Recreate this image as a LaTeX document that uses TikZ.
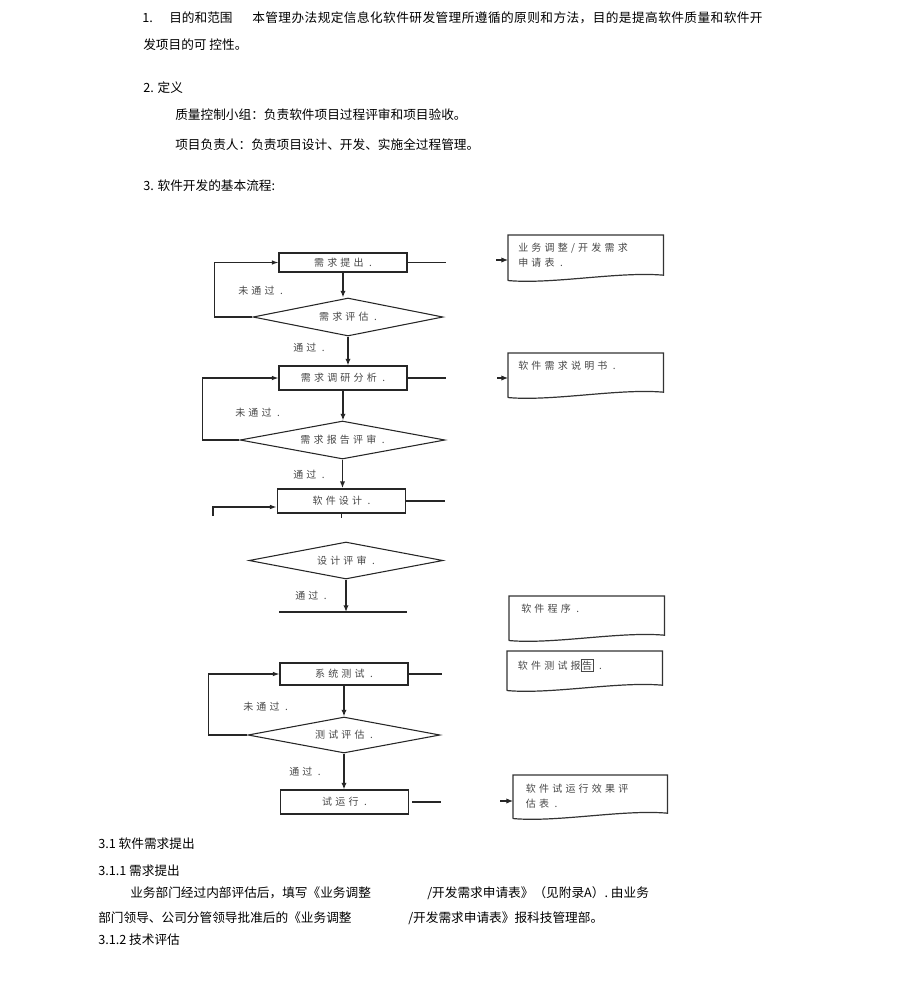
\documentclass[tikz,border=0pt]{standalone}
\usepackage{fontspec}
\setmainfont{Noto Sans CJK SC}
\newfontfamily\flowfont{Noto Sans CJK SC}[LetterSpace=32]
\usepackage{tikz}
\usetikzlibrary{arrows.meta,
                calc,
                positioning,
                shapes.geometric}
\tikzstyle{txt} = [anchor=west,inner sep=0pt,text=black,font=\fontsize{9.5}{11}\selectfont]
\tikzstyle{flowtxt} = [inner sep=0pt,text=black!72,font=\flowfont\fontsize{7.5}{11.25}\selectfont]
\tikzstyle{stepbox} = [draw=black!85,line width=0.8pt,minimum width=96pt,minimum height=17pt,flowtxt]
\tikzstyle{decision} = [diamond,aspect=4,draw=black!85,line width=0.8pt,inner sep=1pt,flowtxt]
\tikzstyle{docbox} = [anchor=north west,inner sep=0pt,minimum width=116.25pt]
\tikzstyle{doctxt} = [flowtxt,anchor=north west,align=left]
\tikzstyle{flow} = [line width=1.2pt,black!85,-{Latex[length=5pt,width=4pt]}]
\tikzstyle{backline} = [line width=0.8pt,black!85,-{Latex[length=5pt,width=3.5pt]}]
\tikzstyle{stub} = [line width=0.8pt,black!85]
\tikzstyle{headline} = [line width=0.8pt,black!85,-{Latex[length=5pt,width=4pt]}]
\newcommand{\docwave}[1]{%
    \draw[line width=0.9pt,black!80] (#1.south west) -- (#1.north west) -- (#1.north east)
      -- ($(#1.south east)+(0,4pt)$)
      .. controls ($(#1.south)+(25pt,7pt)$) and ($(#1.south)+(-25pt,-3pt)$) .. (#1.south west);
}
\setlength{\fboxsep}{0.6pt}
\setlength{\fboxrule}{0.5pt}

\begin{document}
\begin{tikzpicture}[x=0.75pt,y=-0.75pt]
    \useasboundingbox (0,0) rectangle (920,997);

    % text before the chart
    \node[txt] (t1) at (142,18) {1.};
    \node[txt] (t1a) at (169,18) {目的和范围};
    \node[txt] (t1b) at (252,18) {\addfontfeature{LetterSpace=3.4}本管理办法规定信息化软件研发管理所遵循的原则和方法，目的是提高软件质量和软件开};
    \node[txt] (t2) at (143,45) {发项目的可\ 控性。};
    \node[txt] (t3) at (143,88) {2. 定义};
    \node[txt] (t4) at (175,115) {质量控制小组：负责软件项目过程评审和项目验收。};
    \node[txt] (t5) at (175,145) {项目负责人：负责项目设计、开发、实施全过程管理。};
    \node[txt] (t6) at (143,186) {3. 软件开发的基本流程:};

    % chart
    \node[stepbox,minimum height=14.25pt] (b1) at (343,262.5) {需求提出 .};
    \node[decision,minimum width=142.5pt,minimum height=28.5pt] (r1) at (348,317) {需求评估 .};
    \node[stepbox,minimum height=18pt] (b2) at (343,378) {需求调研分析 .};
    \node[decision,minimum width=153.75pt,minimum height=28.5pt] (r2) at (342.5,440) {需求报告评审 .};
    \node[stepbox,minimum height=18pt,line width=1.4pt] (b3) at (341.5,501) {软件设计 .};
    \node[decision,minimum width=145.5pt,minimum height=27.75pt] (r3) at (346,560.5) {设计评审 .};
    \node[stepbox,minimum height=16.5pt] (b4) at (344,674) {系统测试 .};
    \node[decision,minimum width=144pt,minimum height=27pt] (r4) at (344,735) {测试评估 .};
    \node[stepbox,minimum height=18pt] (b5) at (344.5,802) {试运行 .};

    \node[flowtxt,anchor=west] (n1) at (238,291) {未通过 .};
    \node[flowtxt,anchor=west] (p1) at (293,348) {通过 .};
    \node[flowtxt,anchor=west] (n2) at (235,413) {未通过 .};
    \node[flowtxt,anchor=west] (p2) at (293,475) {通过 .};
    \node[flowtxt,anchor=west] (p3) at (295,596) {通过 .};
    \node[flowtxt,anchor=west] (n4) at (243,707) {未通过 .};
    \node[flowtxt,anchor=west] (p4) at (289,772) {通过 .};

    % documents
    \node[docbox,minimum height=33.75pt] (doc1) at (508,235) {};
    \node[docbox,minimum height=33pt] (doc2) at (508,353) {};
    \node[docbox,minimum height=33pt] (doc3) at (509,596) {};
    \node[docbox,minimum height=29.25pt] (doc4) at (507,651) {};
    \node[docbox,minimum height=32.25pt,minimum width=115.5pt] (doc5) at (513,775) {};
    \foreach \d in {doc1,doc2,doc3,doc4,doc5}{\docwave{\d}}
    \node[doctxt,below right=6pt and 7.5pt of doc1.north west] (doc1t) {业务调整/开发需求\\申请表 .};
    \node[doctxt,below right=6pt and 7.5pt of doc2.north west] (doc2t) {软件需求说明书 .};
    \node[doctxt,below right=6pt and 9pt of doc3.north west] (doc3t) {软件程序 .};
    \node[doctxt,below right=6pt and 8pt of doc4.north west] (doc4t) {软件测试报\fbox{告} .};
    \node[doctxt,below right=6.5pt and 9.5pt of doc5.north west] (doc5t) {软件试运行效果评\\估表 .};

    % connectors
    \draw[flow] (b1.south) -- (b1.south |- r1.north);
    \draw[flow] (r1.south) -- (r1.south |- b2.north);
    \draw[flow] (b2.south) -- (b2.south |- r2.north);
    \draw[flow] (r2.south) -- (r2.south |- b3.north);
    \draw[flow] (b4.south) -- (b4.south |- r4.north);
    \draw[flow] (r4.south) -- (r4.south |- b5.north);

    \draw[backline] (r1.west) -- ++(-38,0) |- (b1.west);
    \draw[backline] (r2.west) -- ++(-37,0) |- (b2.west);
    \draw[backline] (r4.west) -- ++(-39,0) |- (b4.west);
    \coordinate (l3) at (213,516);
    \draw[backline] (l3) |- ($(b3.west)+(0,-4.5pt)$);
    \draw[stub] (b3.south) -- ++(0,4);

    \coordinate (cutL) at (279,612);
    \coordinate (cutR) at (407,612);
    \draw[stub] (cutL) -- (cutR);
    \draw[flow] (r3.south) -- (r3.south |- cutL);

    \draw[stub] (b1.east) -- ++(38,0);
    \draw[stub] (b2.east) -- ++(38,0);
    \draw[stub] (b3.east) -- ++(39,0);
    \draw[stub] (b4.east) -- ++(33,0);
    \draw[stub] ($(b5.east)+(3,0)$) -- ++(29,0);

    \coordinate (h1) at (496,260);
    \coordinate (h2) at (497,378);
    \coordinate (h5) at (500,801);
    \draw[headline] (h1) -- (h1 -| doc1.west);
    \draw[headline] (h2) -- (h2 -| doc2.west);
    \draw[headline] (h5) -- (h5 -| doc5.west);

    % text after the chart
    \node[txt] (s31) at (98,844) {3.1 软件需求提出};
    \node[txt] (s311) at (98,871) {3.1.1 需求提出};
    \node[txt] (q1a) at (130,893) {业务部门经过内部评估后，填写《业务调整};
    \node[txt] (q1b) at (427,893) {/开发需求申请表》（见附录A）. 由业务};
    \node[txt] (q2a) at (98,918) {部门领导、公司分管领导批准后的《业务调整};
    \node[txt] (q2b) at (408,918) {/开发需求申请表》报科技管理部。};
    \node[txt] (s312) at (98,940) {3.1.2 技术评估};
\end{tikzpicture}
\end{document}
